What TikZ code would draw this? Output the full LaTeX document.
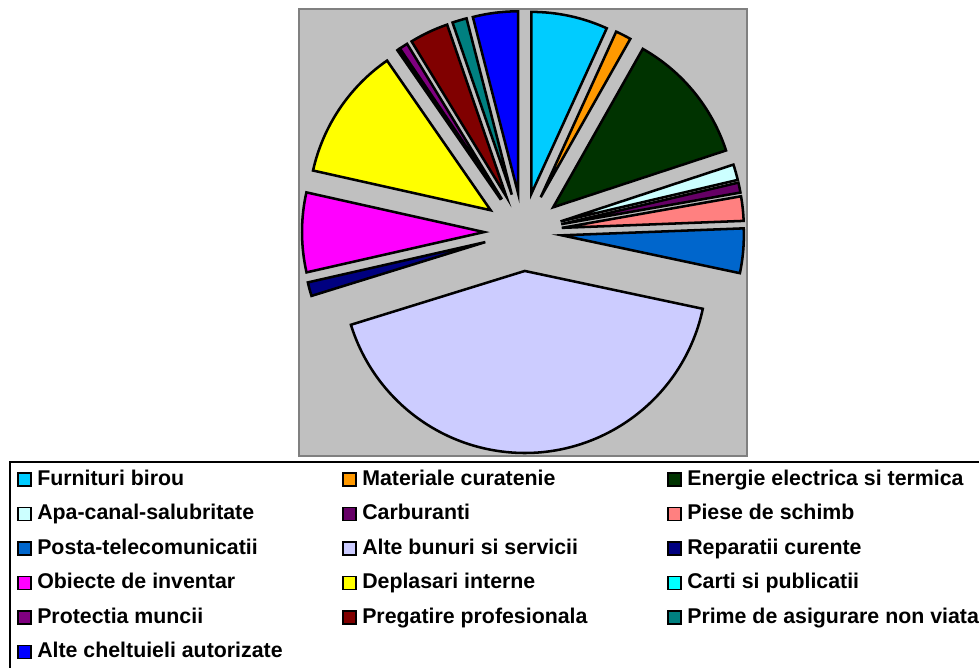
\documentclass[tikz,border=0pt]{standalone}
\usepackage{fontspec}
\setmainfont{Liberation Sans}
\usetikzlibrary{calc}
\definecolor{cFurnituri}{HTML}{00CCFF}
\definecolor{cMateriale}{HTML}{FF9900}
\definecolor{cEnergie}{HTML}{003300}
\definecolor{cApa}{HTML}{CCFFFF}
\definecolor{cCarburanti}{HTML}{660066}
\definecolor{cPiese}{HTML}{FF8080}
\definecolor{cPosta}{HTML}{0066CC}
\definecolor{cBunuri}{HTML}{CCCCFF}
\definecolor{cReparatii}{HTML}{000080}
\definecolor{cObiecte}{HTML}{FF00FF}
\definecolor{cDeplasari}{HTML}{FFFF00}
\definecolor{cCarti}{HTML}{00FFFF}
\definecolor{cProtectia}{HTML}{800080}
\definecolor{cPregatire}{HTML}{800000}
\definecolor{cPrime}{HTML}{008080}
\definecolor{cCheltuieli}{HTML}{0000FF}
\definecolor{plotgray}{HTML}{C0C0C0}
\begin{document}
\begin{tikzpicture}[x=0.75pt,y=0.75pt,
slice/.style={draw=black,line width=1.9pt},
key/.style={draw=black,line width=1.1pt,minimum size=9.5pt,inner sep=0pt},
keytext/.style={anchor=base west,inner sep=0pt,font=\bfseries\fontsize{16}{19}\selectfont}]
\useasboundingbox (0,0) rectangle (979,-668);
\draw[fill=plotgray,draw=gray,line width=1.2pt] (299,-9) rectangle (747,-456);
\coordinate (C) at (523,-232);
\foreach \a/\b/\col in {90/65.5/cFurnituri, 65.5/60.5/cMateriale, 60.5/18.2/cEnergie,
    18.2/13.2/cApa, 13.2/10/cCarburanti, 10/2.2/cPiese, 2.2/-12/cPosta,
    -12/-162.8/cBunuri, -162.8/-167.2/cReparatii, -167.2/-192.6/cObiecte,
    -192.6/-235.3/cDeplasari, -235.3/-235.9/cCarti, -235.9/-238.6/cProtectia,
    -238.6/-251/cPregatire, -251/-255.6/cPrime, -255.6/-270/cCheltuieli}{
  \pgfmathsetmacro\m{(\a+\b)/2}
  \filldraw[slice,fill=\col] ($(C)+(\m:39)$) -- ++(\a:182)
    arc[start angle=\a,end angle=\b,radius=182] -- cycle;
}
\draw[line width=1.5pt] (10,-690) -- (10,-462) -- (990,-462);
\foreach \txt/\col [count=\i from 0] in {Furnituri birou/cFurnituri,
    Materiale curatenie/cMateriale, Energie electrica si termica/cEnergie,
    Apa-canal-salubritate/cApa, Carburanti/cCarburanti, Piese de schimb/cPiese,
    Posta-telecomunicatii/cPosta, Alte bunuri si servicii/cBunuri,
    Reparatii curente/cReparatii, Obiecte de inventar/cObiecte,
    Deplasari interne/cDeplasari, Carti si publicatii/cCarti,
    Protectia muncii/cProtectia, Pregatire profesionala/cPregatire,
    Prime de asigurare non viata/cPrime, Alte cheltuieli autorizate/cCheltuieli}{
  \pgfmathtruncatemacro\cx{mod(\i,3)}
  \pgfmathtruncatemacro\ry{div(\i,3)}
  \node[key,fill=\col] (k\i) at ({24.5+325*\cx},{-479.5-34.5*\ry}) {};
  \node[keytext] (t\i) at ($(k\i.center)+(12.5,-5.8)$) {\txt};
}
%\node at (C) {};
\end{tikzpicture}
\end{document}
